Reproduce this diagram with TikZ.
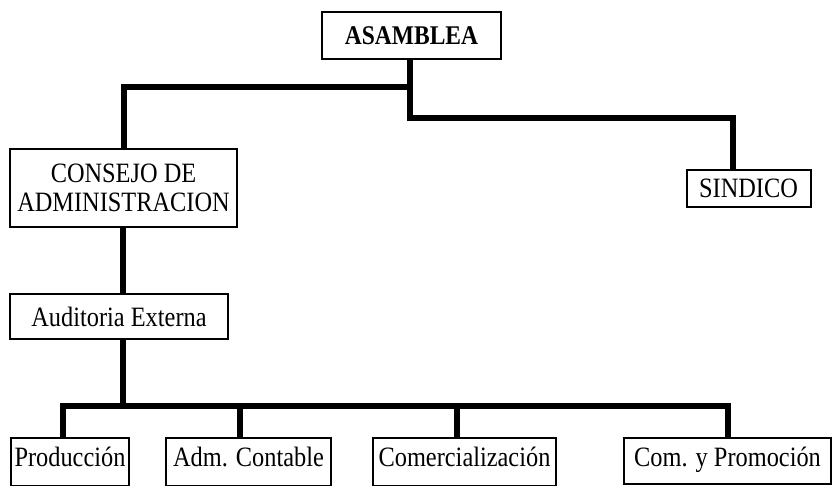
\documentclass[tikz,border=0pt]{standalone}
\usepackage{fontspec}
\setmainfont[FakeStretch=0.87]{Liberation Serif}
\usetikzlibrary{backgrounds}
\begin{document}
\begin{tikzpicture}[x=1pt,y=-1pt,
  box/.style={draw,line width=2pt,fill=white,inner sep=0pt,font=\fontsize{28}{29}\selectfont},
  lowbox/.style={box,anchor=north west,minimum height=48pt,text height=28pt,text depth=20pt},
  conn/.style={line width=6pt,line join=miter}]
\useasboundingbox (0,0) rectangle (834,486);
\node[box,minimum width=179pt,minimum height=47pt,font=\fontsize{27}{29}\selectfont\bfseries] (asam) at (411.5,35.5) {ASAMBLEA};
\node[box,minimum width=227pt,minimum height=78pt,align=center] (consejo) at (123.5,188) {CONSEJO DE\\ADMINISTRACION};
\node[box,minimum width=124pt,minimum height=37pt] (sind) at (748.5,188.5) {SINDICO};
\node[box,minimum width=218pt,minimum height=45pt] (aud) at (119,316.5) {Auditoria Externa};
\node[lowbox,minimum width=118pt] (prod) at (10,437) {Producción\hspace{-4pt}};
\node[lowbox,minimum width=165pt] (adm) at (165,437) {Adm. Contable};
\node[lowbox,minimum width=183pt] (comer) at (372,437) {Comercialización\hspace{2pt}};
\node[lowbox,minimum width=207pt,minimum height=46pt,text depth=18pt] (prom) at (623,437) {Com. y Promoción};
\coordinate (j1) at (410,87);
\coordinate (j2) at (410,118);
\coordinate (bus) at (123,406);
\coordinate (d1) at (63,406);
\coordinate (d2) at (240,406);
\coordinate (d3) at (457,406);
\coordinate (d4) at (728,406);
\coordinate (d5) at (733,118);
\begin{pgfonlayer}{background}
\draw[conn] (j1 |- asam.south) -- (j2) -- (d5) -- (d5 |- sind.north);
\draw[conn] (j1) -| (consejo.north);
\draw[conn] (bus |- consejo.south) -- (bus |- aud.north);
\draw[conn] (bus |- aud.south) -- (bus);
\draw[conn] (d1 |- prod.north) |- (d4) -- (d4 |- prom.north);
\draw[conn] (d2) -- (d2 |- adm.north);
\draw[conn] (d3) -- (d3 |- comer.north);
\end{pgfonlayer}
\end{tikzpicture}
\end{document}
